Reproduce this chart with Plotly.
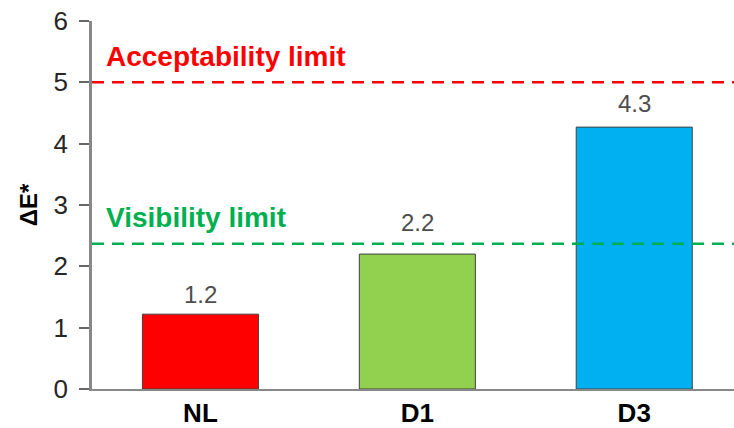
import plotly.graph_objects as go

# data
samples = ["NL", "D1", "D3"]
delta_e = [1.22, 2.2, 4.27]
delta_e_labels = ["1.2", "2.2", "4.3"]
bar_colors = ["#FF0000", "#92D050", "#00B0F0"]

acceptability_limit = 5.0
visibility_limit = 2.37

font = "Liberation Sans, Arial, sans-serif"

fig = go.Figure()

fig.add_trace(go.Bar(
    x=samples,
    y=delta_e,
    width=0.535,
    marker=dict(color=bar_colors, line=dict(color="#404040", width=1)),
))

# value labels above the bars (D1 label lifted clear of the visibility line)
label_shift = [4, 16, 8]
for s, v, lab, sh in zip(samples, delta_e, delta_e_labels, label_shift):
    fig.add_annotation(x=s, y=v, text=lab, showarrow=False, yanchor="bottom", yshift=sh,
                       font=dict(family=font, size=24, color="#4d4d4d"))

# limit lines
fig.add_hline(y=acceptability_limit, line=dict(color="#FF0000", width=2.5, dash="12px,8px"))
fig.add_hline(y=visibility_limit, line=dict(color="#00B050", width=2.5, dash="12px,8px"))

fig.add_annotation(text="<b>Acceptability limit</b>", xref="paper", yref="y",
                   x=0.018, y=acceptability_limit + 0.42, xanchor="left", yanchor="middle",
                   showarrow=False, font=dict(family=font, size=28, color="#FF0000"))
fig.add_annotation(text="<b>Visibility limit</b>", xref="paper", yref="y",
                   x=0.018, y=visibility_limit + 0.43, xanchor="left", yanchor="middle",
                   showarrow=False, font=dict(family=font, size=28, color="#00B050"))

fig.update_layout(
    width=734, height=428,
    margin=dict(l=92, r=0, t=21, b=39),
    plot_bgcolor="white", paper_bgcolor="white",
    showlegend=False,
    xaxis=dict(
        range=[-0.5, 2.46], automargin=False,
        showline=True, linecolor="#888888", linewidth=2,
        ticks="", showgrid=False,
        tickfont=dict(family=font, size=26, color="black", weight="bold"),
        ticklabelstandoff=0, ticklabeloverflow="allow",
    ),
    yaxis=dict(
        range=[0, 6], dtick=1, automargin=False,
        showline=True, linecolor="#888888", linewidth=2.5,
        ticks="outside", ticklen=10, tickcolor="#666666", tickwidth=1.5,
        showgrid=False, zeroline=False,
        tickfont=dict(family=font, size=26, color="#262626"),
        ticklabelstandoff=6, ticklabeloverflow="allow",
        title=dict(text="<b>ΔE*</b>", font=dict(family=font, size=24, color="black"), standoff=10),
    ),
)

# drop the browser's default body margin so the figure fills the window
fig.write_html("out.html", config={"displayModeBar": False},
               post_script="document.body.style.margin='0';")
